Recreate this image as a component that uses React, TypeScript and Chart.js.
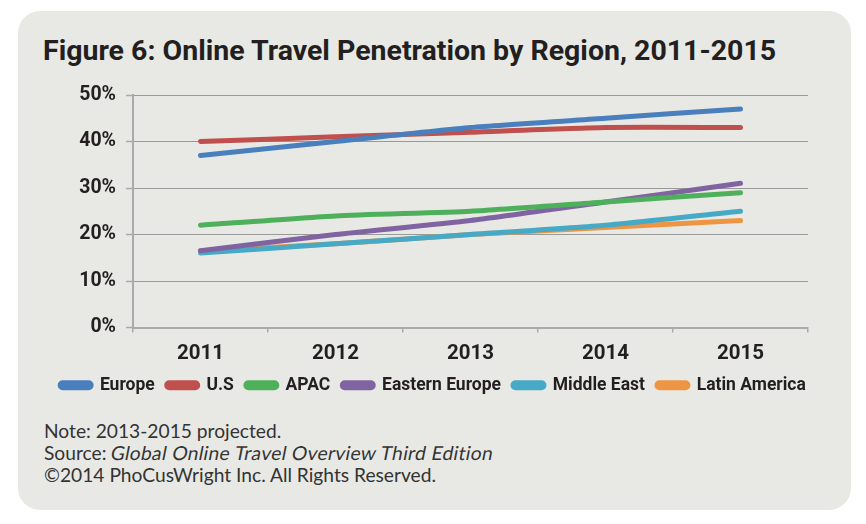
import React, { useEffect, useRef } from "react";
import { Chart, registerables } from "chart.js";

Chart.register(...registerables);

const years = ["2011", "2012", "2013", "2014", "2015"];
const europe = [37, 40, 43, 45, 47];
const us = [40, 41, 42, 43, 43];
const apac = [22, 24, 25, 27, 29];
const easternEurope = [16.5, 20, 23, 27, 31];
const middleEast = [16, 18, 20, 22, 25];
const latinAmerica = [16.5, 18, 20, 21.5, 23];
const seriesNames = ["Europe", "U.S", "APAC", "Eastern Europe", "Middle East", "Latin America"];
const seriesColors = ["#4a7fbd", "#c0504d", "#4fb05c", "#8064a2", "#46a9c6", "#ee9543"];
const yTicks = [0, 10, 20, 30, 40, 50];

const TEXT = "#231f20";

const legendShift = {
  id: "legendShift",
  afterLayout(chart: any) {
    if (chart.legend) {
      chart.legend.left += 20;
      chart.legend.right += 20;
    }
  },
};

export default function App() {
  const ref = useRef<HTMLCanvasElement>(null);
  useEffect(() => {
    const values = [europe, us, apac, easternEurope, middleEast, latinAmerica];
    const chart = new Chart(ref.current!, {
      type: "line",
      data: {
        labels: years,
        datasets: values.map((v, i) => ({
          label: seriesNames[i],
          data: v,
          borderColor: seriesColors[i],
          backgroundColor: seriesColors[i],
          borderWidth: 5,
          borderCapStyle: "round" as const,
          borderJoinStyle: "round" as const,
          pointRadius: 0,
          tension: 0.2,
          fill: false,
        })),
      },
      plugins: [legendShift],
      options: {
        responsive: false,
        animation: false,
        layout: { padding: { top: 15, right: 40, left: 0, bottom: 0 } },
        plugins: {
          legend: {
            position: "bottom",
            labels: {
              boxWidth: 31,
              boxHeight: 5,
              padding: 12,
              useBorderRadius: true,
              borderRadius: 2.5,
              color: TEXT,
              font: { family: "Roboto", weight: "bold", size: 17.5 },
            },
          },
          tooltip: { enabled: false },
        },
        scales: {
          x: {
            offset: true,
            afterFit: (s: any) => { s.height = 37; },
            grid: {
              offset: true,
              drawOnChartArea: false,
              drawTicks: true,
              tickLength: 5,
              color: "#aaaaaa",
              lineWidth: 1.5,
            },
            border: { display: true, color: "#aaaaaa", width: 2 },
            ticks: {
              color: TEXT,
              padding: 11,
              font: { family: "Roboto", weight: "bold", size: 20.5, lineHeight: 1 },
            },
          },
          y: {
            min: 0,
            max: 50,
            afterFit: (s: any) => { s.width = 115; },
            afterBuildTicks: (s: any) => { s.ticks = yTicks.map((v) => ({ value: v })); },
            grid: {
              color: "#9a9a9a",
              lineWidth: 1,
              borderDash: [2, 2],
              drawTicks: true,
              tickLength: 7,
              tickColor: "#aaaaaa",
              tickBorderDash: [],
              tickWidth: 1.5,
            },
            border: { display: true, color: "#aaaaaa", width: 2 },
            ticks: {
              color: TEXT,
              padding: 10,
              font: { family: "Roboto", weight: "bold", size: 19.5, lineHeight: 0.5 },
              callback: (v: any) => v + "%",
            },
          },
        },
      },
    });
    return () => chart.destroy();
  }, []);

  return (
    <div style={{ position: "relative", width: 850, height: 508 }}>
      <div
        style={{
          position: "absolute",
          left: 10,
          top: 3,
          width: 833,
          height: 499,
          borderRadius: 22,
          background: "#e8e9e5",
        }}
      />
      <div
        style={{
          position: "absolute",
          left: 35,
          top: 29,
          fontFamily: "Roboto",
          fontWeight: "bold",
          fontSize: 28.5,
          lineHeight: 1,
          color: TEXT,
          whiteSpace: "nowrap",
        }}
      >
        Figure 6: Online Travel Penetration by Region, 2011-2015
      </div>
      <canvas
        ref={ref}
        width={830}
        height={324}
        style={{ position: "absolute", left: 10, top: 72, width: 830, height: 324 }}
      />
      <div
        style={{
          position: "absolute",
          left: 36,
          top: 412,
          fontFamily: "Lato",
          fontSize: 19.2,
          lineHeight: "22px",
          color: "#333333",
          whiteSpace: "nowrap",
        }}
      >
        <div>Note: 2013-2015 projected.</div>
        <div>
          Source:{" "}
          <span style={{ display: "inline-block", transform: "skewX(-11deg)", letterSpacing: 0.35 }}>
            Global Online Travel Overview Third Edition
          </span>
        </div>
        <div>©2014 PhoCusWright Inc. All Rights Reserved.</div>
      </div>
    </div>
  );
}
